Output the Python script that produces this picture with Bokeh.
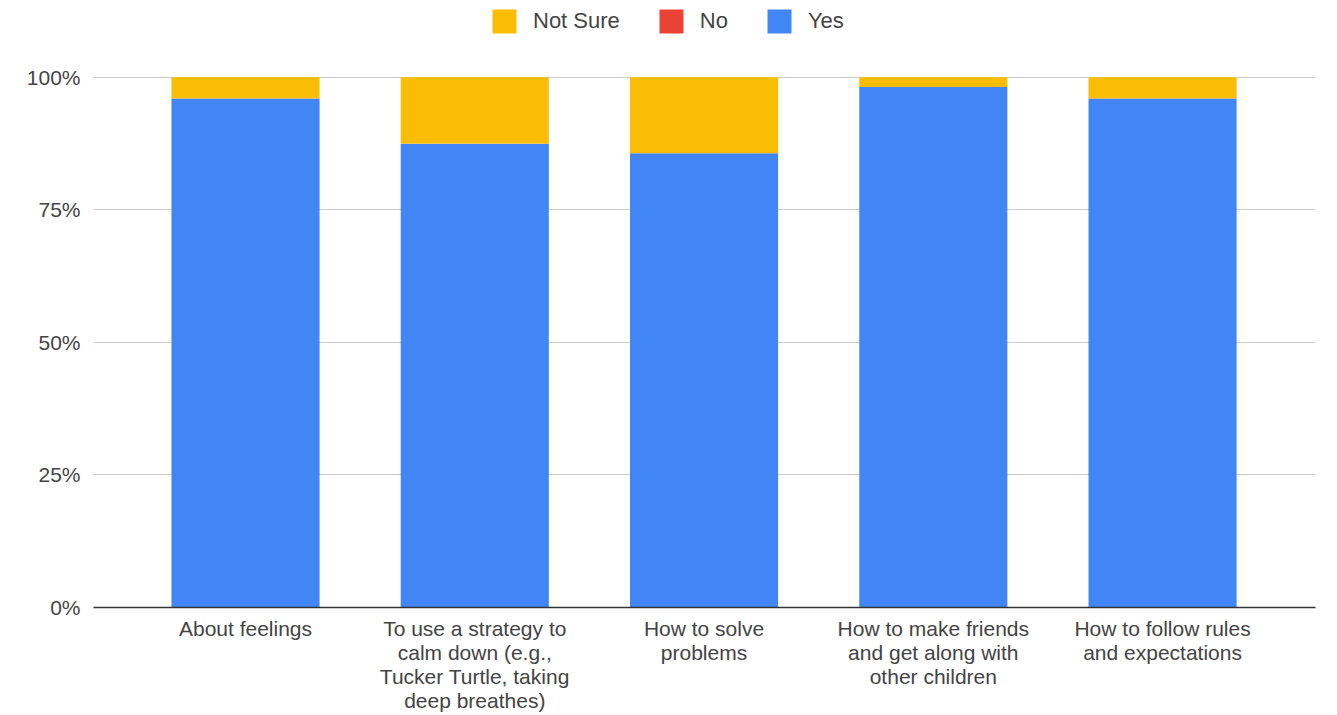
from bokeh.plotting import figure
from bokeh.models import (ColumnDataSource, Legend, LegendItem, FixedTicker,
                          NumeralTickFormatter, Range1d)
from bokeh.embed import file_html
from bokeh.resources import INLINE

# Survey answers per skill, as shares of respondents
categories = [
    "About feelings",
    "To use a strategy to\ncalm down (e.g.,\nTucker Turtle, taking\ndeep breathes)",
    "How to solve\nproblems",
    "How to make friends\nand get along with\nother children",
    "How to follow rules\nand expectations",
]
yes = [0.96, 0.875, 0.857, 0.982, 0.96]
no = [0.0, 0.0, 0.0, 0.0, 0.0]
not_sure = [0.04, 0.125, 0.143, 0.018, 0.04]

series = ["yes", "no", "not_sure"]
series_labels = {"yes": "Yes", "no": "No", "not_sure": "Not Sure"}
colors = {"yes": "#4285F4", "no": "#EA4335", "not_sure": "#FBBC04"}

xs = list(range(len(categories)))
source = ColumnDataSource(data=dict(x=xs, yes=yes, no=no, not_sure=not_sure))

FONT = "Liberation Sans"
TEXT = "#444444"

# The frame reaches the top edge; the headroom above 100% holds the legend
p = figure(
    width=1337, height=715,
    x_range=Range1d(-0.663, 4.667), y_range=Range1d(0, 1.145),
    output_backend="svg", toolbar_location=None,
    min_border_left=93, min_border_right=22,
    min_border_top=0, min_border_bottom=106,
)
p.outline_line_color = None
p.background_fill_color = "white"
p.border_fill_color = "white"

renderers = p.vbar_stack(
    series, x="x", width=0.646, source=source,
    color=[colors[s] for s in series], line_color=None,
)
by_name = dict(zip(series, renderers))

legend = Legend(
    items=[LegendItem(label=series_labels[s], renderers=[by_name[s]])
           for s in ["not_sure", "no", "yes"]],
    orientation="horizontal",
    location=(396, 571),
    glyph_width=30, glyph_height=30,
    label_standoff=14, spacing=36,
    label_text_font=FONT, label_text_font_size="22px",
    label_text_color=TEXT,
    border_line_color=None, background_fill_alpha=0,
    padding=0, margin=0,
)
p.add_layout(legend, "center")

# x axis: one category label under each bar
p.xaxis.ticker = FixedTicker(ticks=xs)
p.xaxis.major_label_overrides = {i: c for i, c in enumerate(categories)}
p.xaxis.major_label_text_font = FONT
p.xaxis.major_label_text_font_size = "21px"
p.xaxis.major_label_text_color = TEXT
p.xaxis.major_label_text_line_height = 1.056
p.xaxis.major_label_standoff = 9
p.xaxis.major_tick_out = 0
p.xaxis.major_tick_in = 0
p.xaxis.major_tick_line_color = None
p.xaxis.minor_tick_line_color = None
p.xaxis.axis_line_color = "#333333"
p.xaxis.axis_line_width = 1.5

# y axis: percentage scale with light gridlines
p.yaxis.ticker = FixedTicker(ticks=[0, 0.25, 0.5, 0.75, 1.0])
p.yaxis.formatter = NumeralTickFormatter(format="0%")
p.yaxis.major_label_text_font = FONT
p.yaxis.major_label_text_font_size = "21px"
p.yaxis.major_label_text_color = TEXT
p.yaxis.major_label_standoff = 13
p.yaxis.major_tick_out = 0
p.yaxis.major_tick_in = 0
p.yaxis.major_tick_line_color = None
p.yaxis.minor_tick_line_color = None
p.yaxis.axis_line_color = None

p.xgrid.grid_line_color = None
p.ygrid.grid_line_color = "#cccccc"
p.ygrid.grid_line_width = 1

open("out.html", "w").write(file_html(p, INLINE))
